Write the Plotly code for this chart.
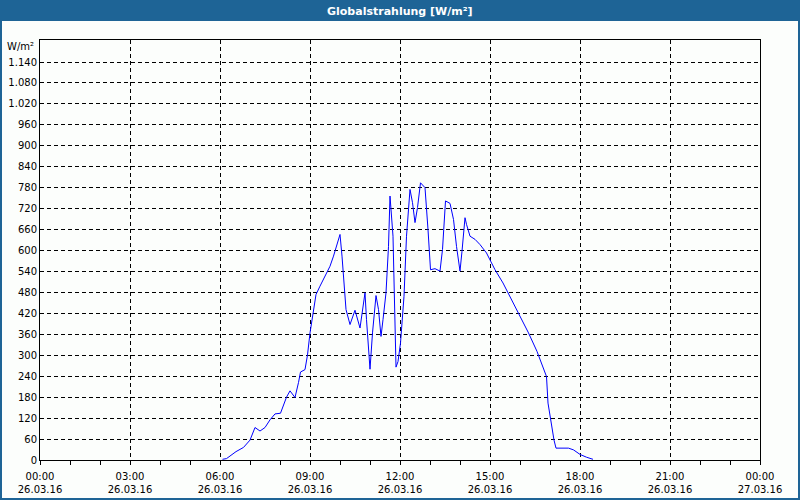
import plotly.graph_objects as go

DAY = "2016-03-26"
times = ["06:05", "06:13", "06:32", "06:47", "07:00", "07:10", "07:20", "07:30", "07:40", "07:50",
         "08:01", "08:13", "08:20", "08:30", "08:37", "08:41", "08:50", "08:55", "09:00", "09:07",
         "09:12", "09:20", "09:30", "09:40", "09:47", "09:53", "10:00", "10:04", "10:08", "10:12",
         "10:20", "10:30", "10:40", "10:50", "10:53", "11:00", "11:05", "11:12", "11:17", "11:22",
         "11:26", "11:32", "11:37", "11:40", "11:46", "11:49", "11:52", "11:56", "12:01", "12:08",
         "12:13", "12:20", "12:25", "12:30", "12:35", "12:41", "12:50", "12:56", "13:01", "13:10",
         "13:20", "13:25", "13:31", "13:40", "13:47", "13:53", "14:00", "14:04", "14:10", "14:13",
         "14:20", "14:30", "14:40", "14:53", "15:10", "15:26", "15:40", "15:56", "16:17", "16:34",
         "16:48", "16:53", "16:56", "17:01", "17:08", "17:12", "17:37", "17:47", "18:00", "18:13",
         "18:26"]
values = [2, 4, 24, 36, 57, 93, 83, 93, 115, 132,
          134, 180, 198, 179, 222, 252, 259, 301, 364, 431,
          474, 498, 526, 555, 584, 612, 646, 584, 498, 431,
          388, 429, 378, 479, 402, 260, 364, 471, 431, 354,
          402, 479, 612, 756, 641, 431, 266, 282, 335, 469,
          641, 775, 737, 680, 723, 794, 780, 660, 545, 548,
          541, 603, 742, 735, 689, 612, 541, 598, 694, 675,
          641, 632, 617, 593, 545, 507, 469, 421, 364, 311,
          260, 239, 163, 115, 57, 34, 34, 29, 16, 8,
          2]

x_tick_vals = ["2016-03-26 00:00", "2016-03-26 03:00", "2016-03-26 06:00", "2016-03-26 09:00",
               "2016-03-26 12:00", "2016-03-26 15:00", "2016-03-26 18:00", "2016-03-26 21:00",
               "2016-03-27 00:00"]
x_tick_text = ["00:00<br>26.03.16", "03:00<br>26.03.16", "06:00<br>26.03.16", "09:00<br>26.03.16",
               "12:00<br>26.03.16", "15:00<br>26.03.16", "18:00<br>26.03.16", "21:00<br>26.03.16",
               "00:00<br>27.03.16"]
y_tick_vals = list(range(0, 1141, 60))

title_text = "Globalstrahlung [W/m²]"
unit_text = "W/m²"

BAR = "#1E6496"
BG = "#FCFEFC"
FONT = "DejaVu Sans"

x = [f"{DAY} {t}" for t in times]

fig = go.Figure(go.Scatter(x=x, y=values, mode="lines",
                           line=dict(color="#0000FF", width=1), hoverinfo="skip"))

W, H = 800, 500
L, R, T, B = 40, 40, 40, 40
pw, ph = W - L - R, H - T - B

fig.update_layout(
    width=W, height=H,
    margin=dict(l=L, r=R, t=T, b=B, autoexpand=False),
    paper_bgcolor=BG, plot_bgcolor=BG,
    separators=",.",
    showlegend=False,
    font=dict(family=FONT, size=10, color="#000000"),
    xaxis=dict(
        type="date", automargin=False,
        range=["2016-03-26 00:00", "2016-03-27 00:00"],
        tickmode="array", tickvals=x_tick_vals, ticktext=x_tick_text,
        ticks="outside", ticklen=4, tickcolor="#000000", ticklabelstandoff=3,
        showgrid=True, gridcolor="#000000", gridwidth=1, griddash="4px,3px",
        showline=True, linecolor="#000000", linewidth=1, mirror=True,
        minor=dict(dtick=3600000, ticks="outside", ticklen=4, tickcolor="#000000", showgrid=False),
        zeroline=False, tickfont=dict(family=FONT, size=10),
    ),
    yaxis=dict(
        automargin=False,
        range=[0, 1203],
        tickmode="array", tickvals=y_tick_vals, tickformat=",d",
        ticks="", showgrid=True, gridcolor="#000000", gridwidth=1, griddash="4px,3px",
        showline=True, linecolor="#000000", linewidth=1, mirror=True,
        zeroline=False, tickfont=dict(family=FONT, size=10),
    ),
)

fx0, fx1 = -L / pw, 1 + R / pw
fy0, fy1 = -B / ph, 1 + T / ph
bar_bottom = 1 + (T - 21) / ph

fig.add_shape(type="rect", xref="paper", yref="paper", x0=fx0, x1=fx1, y0=bar_bottom, y1=fy1,
              fillcolor=BAR, line=dict(width=0), layer="above")
fig.add_shape(type="rect", xref="paper", yref="paper", x0=fx0, x1=fx1, y0=fy0, y1=fy1,
              fillcolor="rgba(0,0,0,0)", line=dict(color=BAR, width=4), layer="above")

fig.add_annotation(text=f"<b>{title_text}</b>", xref="paper", yref="paper",
                   x=0.5, y=(bar_bottom + fy1) / 2, xanchor="center", yanchor="middle",
                   yshift=-1, showarrow=False, font=dict(family=FONT, size=11, color="#FFFFFF"))
fig.add_annotation(text=unit_text, xref="paper", yref="paper", x=0, y=1,
                   xanchor="right", yanchor="middle", xshift=-4, yshift=-6,
                   showarrow=False, font=dict(family=FONT, size=10, color="#000000"))

fig.write_html("out.html")
